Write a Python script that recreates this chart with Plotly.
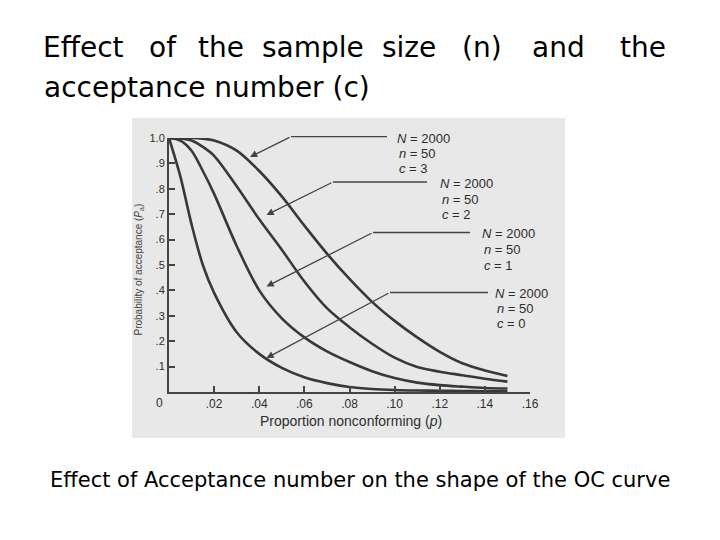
import plotly.graph_objects as go

# ---------------- data ----------------
p_values = [0, 0.005, 0.01, 0.015, 0.02, 0.03, 0.04, 0.05, 0.06, 0.07,
            0.08, 0.09, 0.10, 0.11, 0.12, 0.13, 0.14, 0.15]
pa_c0 = [1.0, 0.85, 0.66, 0.50, 0.39, 0.235, 0.15, 0.095, 0.058, 0.035,
         0.02, 0.012, 0.008, 0.006, 0.005, 0.004, 0.003, 0.003]
pa_c1 = [1.0, 0.99, 0.95, 0.87, 0.78, 0.575, 0.40, 0.29, 0.215, 0.16,
         0.118, 0.082, 0.055, 0.037, 0.027, 0.021, 0.016, 0.014]
pa_c2 = [1.0, 0.998, 0.99, 0.965, 0.93, 0.81, 0.68, 0.56, 0.435, 0.33,
         0.255, 0.19, 0.135, 0.098, 0.08, 0.066, 0.052, 0.041]
pa_c3 = [1.0, 1.0, 1.0, 0.997, 0.99, 0.95, 0.87, 0.77, 0.655, 0.545,
         0.445, 0.355, 0.28, 0.215, 0.158, 0.113, 0.085, 0.063]

x_tickvals = [0.02, 0.04, 0.06, 0.08, 0.10, 0.12, 0.14, 0.16]
x_ticktext = [".02", ".04", ".06", ".08", ".10", ".12", ".14", ".16"]
y_tickvals = [0.1, 0.2, 0.3, 0.4, 0.5, 0.6, 0.7, 0.8, 0.9, 1.0]
y_ticktext = [".1", ".2", ".3", ".4", ".5", ".6", ".7", ".8", ".9", "1.0"]

plan_N = ["2000", "2000", "2000", "2000"]
plan_n = ["50", "50", "50", "50"]
plan_c = ["3", "2", "1", "0"]

title_line1 = ["Effect", "of", "the", "sample", "size", "(n)", "and", "the"]
title_line2 = "acceptance number (c)"
caption = "Effect of Acceptance number on the shape of the OC curve"

# ---------------- layout geometry (pixels in the page) ----------------
W, H = 720, 540
OFF = 8  # page body margin
PL, PR, PT, PB = 169, 530, 138, 392


def fx(xp):
    return (xp - PL) / (PR - PL)


def fy(yp):
    return (PB - yp) / (PB - PT)


CURVE = "#383838"
INK = "#2e2e2e"

fig = go.Figure()
for vals in [pa_c0, pa_c1, pa_c2, pa_c3]:
    fig.add_trace(go.Scatter(
        x=p_values, y=vals, mode="lines",
        line=dict(color=CURVE, width=2.6, shape="spline", smoothing=0.9),
        cliponaxis=False, showlegend=False, hoverinfo="skip"))

shapes = [
    dict(type="rect", xref="paper", yref="paper",
         x0=fx(132), x1=fx(565), y0=fy(438), y1=fy(118),
         fillcolor="#e8e8e8", line=dict(width=0), layer="below"),
]

annotations = []

leaders = [
    (291, 387, 136.7, 250, 157),
    (333, 427, 182, 266.5, 215),
    (373, 470, 232.5, 266.5, 286.5),
    (390, 488, 292.5, 266.5, 358),
]
label_pos = [(395, 138, 153, 168.3), (438, 183.3, 199.5, 214.5),
             (480, 233.3, 249.5, 265), (493, 293.3, 308.3, 323.3)]

for i, (x0, x1, yl, tx, ty) in enumerate(leaders):
    shapes.append(dict(type="line", xref="paper", yref="paper",
                       x0=fx(x0), x1=fx(x1), y0=fy(yl), y1=fy(yl),
                       line=dict(color="#444444", width=1.3)))
    annotations.append(dict(
        xref="paper", yref="paper", x=fx(tx), y=fy(ty), text="",
        showarrow=True, arrowhead=2, arrowsize=1.1, arrowwidth=1.3,
        arrowcolor="#444444", ax=x0 - tx, ay=yl - ty))
    lx, y1, y2, y3 = label_pos[i]
    texts = ["<i>N</i> = " + plan_N[i], "<i>n</i> = " + plan_n[i],
             "<i>c</i> = " + plan_c[i]]
    for t, yy, xo in zip(texts, [y1, y2, y3], [0, 1.5, 1.5]):
        annotations.append(dict(
            xref="paper", yref="paper", x=fx(lx + xo), y=fy(yy), text=t,
            showarrow=False, xanchor="left", yanchor="middle",
            font=dict(family="Liberation Sans", size=13, color=INK)))

annotations.append(dict(xref="paper", yref="paper", x=fx(159.5), y=fy(403),
                        text="0", showarrow=False, xanchor="center",
                        yanchor="middle",
                        font=dict(family="Liberation Sans", size=12, color=INK)))
annotations.append(dict(xref="paper", yref="paper", x=fx(351), y=fy(421),
                        text="Proportion nonconforming (<i>p</i>)",
                        showarrow=False, xanchor="center", yanchor="middle",
                        font=dict(family="Liberation Sans", size=14, color=INK)))
annotations.append(dict(xref="paper", yref="paper", x=fx(138.5), y=fy(270),
                        text="Probability of acceptance (<i>P</i><sub>a</sub>)",
                        showarrow=False, textangle=-90,
                        xanchor="center", yanchor="middle",
                        font=dict(family="Liberation Sans", size=10, color="#444444")))

word_centers = [83.5, 162.5, 221, 312.5, 408.5, 482, 558.5, 643]
for w, cx in zip(title_line1, word_centers):
    annotations.append(dict(xref="paper", yref="paper", x=fx(cx), y=fy(48),
                            text=w, showarrow=False, xanchor="center",
                            yanchor="middle",
                            font=dict(family="DejaVu Sans", size=28, color="black")))
annotations.append(dict(xref="paper", yref="paper", x=fx(42), y=fy(88),
                        text=title_line2, showarrow=False, xanchor="left",
                        yanchor="middle",
                        font=dict(family="DejaVu Sans", size=28, color="black")))
annotations.append(dict(xref="paper", yref="paper", x=fx(360), y=fy(480),
                        text=caption, showarrow=False, xanchor="center",
                        yanchor="middle",
                        font=dict(family="DejaVu Sans", size=21, color="black")))

fig.update_layout(
    width=W, height=H,
    margin=dict(l=PL - OFF, r=W - PR + OFF, t=PT - OFF, b=H - PB + OFF, pad=0),
    paper_bgcolor="white", plot_bgcolor="rgba(0,0,0,0)",
    shapes=shapes, annotations=annotations, showlegend=False,
    xaxis=dict(range=[0, 0.16], tickvals=x_tickvals, ticktext=x_ticktext,
               ticks="inside", ticklen=6, tickwidth=1.5, tickcolor="#444444",
               showline=True, linecolor="#444444", linewidth=2,
               showgrid=False, zeroline=False, fixedrange=True,
               tickfont=dict(family="Liberation Sans", size=12, color=INK)),
    yaxis=dict(range=[0, 1.0], tickvals=y_tickvals, ticktext=y_ticktext,
               ticks="inside", ticklen=6, tickwidth=1.5, tickcolor="#444444",
               showline=True, linecolor="#444444", linewidth=2,
               showgrid=False, zeroline=False, fixedrange=True,
               tickfont=dict(family="Liberation Sans", size=11, color=INK)),
)

fig.write_html("out.html")
